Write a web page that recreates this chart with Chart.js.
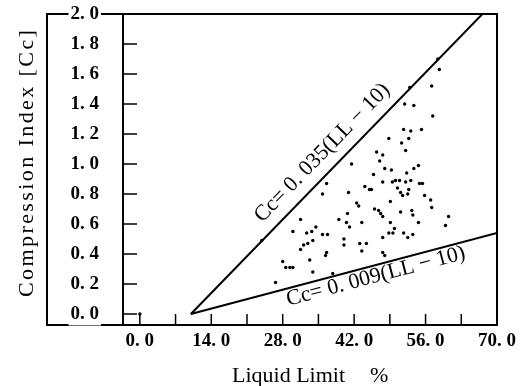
<!DOCTYPE html>
<html><head><meta charset="utf-8">
<script src="https://cdn.jsdelivr.net/npm/chart.js@4.4.1/dist/chart.umd.min.js"></script>
<style>html,body{margin:0;padding:0;background:#fff}canvas{display:block}</style>
</head><body>
<canvas id="c" width="520" height="386"></canvas>
<script>
// ---- data ----
const liquidLimit = [58.4,58.7,52.9,57.2,51.9,53.7,57.4,51.7,53.1,55.2,48.8,52.7,51.3,46.4,47.6,52.1,47.0,48.0,49.3,54.6,53.7,45.8,52.3,47.6,49.5,50.1,50.9,52.1,53.1,54.8,55.4,45.4,50.5,51.1,51.5,52.7,52.5,55.8,57.0,49.1,57.2,46.0,46.8,47.2,47.6,51.1,53.3,53.5,60.5,49.1,54.6,59.9,49.9,48.8,49.6,51.7,52.5,47.6,53.5,36.6,44.1,45.0,35.8,40.9,41.5,42.5,42.9,40.7,39.0,40.5,43.5,41.1,31.5,30.0,32.7,33.7,34.5,35.8,36.8,40.0,33.9,32.9,32.1,31.5,40.0,43.1,44.4,36.6,36.4,43.5,33.3,28.0,28.6,29.4,30.0,33.9,37.8,26.6,23.9,47.6,48.0,0];
const compressionIndex = [1.70,1.63,1.51,1.52,1.40,1.39,1.32,1.23,1.22,1.23,1.17,1.17,1.14,1.08,1.06,1.09,1.02,0.97,0.96,0.99,0.97,0.93,0.94,0.88,0.88,0.89,0.89,0.88,0.89,0.87,0.87,0.83,0.84,0.81,0.79,0.83,0.80,0.79,0.76,0.75,0.71,0.70,0.69,0.67,0.65,0.68,0.69,0.66,0.65,0.61,0.61,0.59,0.57,0.54,0.54,0.54,0.51,0.51,0.53,0.87,0.85,0.83,0.80,0.81,1.00,0.74,0.72,0.67,0.63,0.61,0.61,0.58,0.63,0.55,0.54,0.55,0.58,0.53,0.53,0.50,0.49,0.47,0.46,0.43,0.46,0.47,0.47,0.41,0.39,0.42,0.36,0.35,0.31,0.31,0.31,0.28,0.27,0.21,0.49,0.41,0.39,0];
const upperLineLL = [10, 67.14];
const upperLineCc = [0, 2.0];
const lowerLineLL = [10, 70];
const lowerLineCc = [0, 0.54];
const xTickValues = [0,7,14,21,28,35,42,49,56,63,70];
const xLabelEvery = 14;
const yTickValues = [0,0.2,0.4,0.6,0.8,1.0,1.2,1.4,1.6,1.8,2.0];
const xRange = [-3.3, 70];
const yRange = [-0.073, 2.0];
const xTitle = 'Liquid Limit';
const xUnit = '%';
const yTitle = 'Compression Index [Cc]';
const upperLabel = 'Cc= 0. 035(LL \u2212 10)';
const lowerLabel = 'Cc= 0. 009(LL \u2212 10)';

const fmt = v => v.toFixed(1).replace('.', '. ');
const serif = '"Liberation Serif", "DejaVu Serif", serif';

const decor = {
  id: 'decor',
  beforeDraw(chart) {
    const {ctx, chartArea: a} = chart;
    const xs = chart.scales.x, ys = chart.scales.y;
    ctx.save();
    ctx.fillStyle = '#fff';
    ctx.fillRect(0, 0, chart.width, chart.height);
    ctx.strokeStyle = '#000';
    ctx.lineWidth = 2;
    ctx.beginPath();
    ctx.moveTo(ys.left, a.top); ctx.lineTo(a.right, a.top);
    ctx.lineTo(a.right, a.bottom); ctx.lineTo(ys.left, a.bottom); ctx.closePath();
    ctx.moveTo(a.left, a.top); ctx.lineTo(a.left, a.bottom);
    ctx.stroke();
    ctx.lineWidth = 1.5;
    ctx.beginPath();
    xs.ticks.forEach(t => { const p = xs.getPixelForValue(t.value); ctx.moveTo(p, a.bottom); ctx.lineTo(p, a.bottom - 11); });
    ys.ticks.forEach(t => { const p = ys.getPixelForValue(t.value); ctx.moveTo(a.left, p); ctx.lineTo(a.left + 14, p); });
    ctx.stroke();
    ctx.restore();
  },
  afterDraw(chart) {
    const {ctx} = chart;
    const xs = chart.scales.x, ys = chart.scales.y;
    ctx.save();
    ctx.fillStyle = '#000';
    // x title
    ctx.font = '22px ' + serif;
    ctx.textAlign = 'left';
    ctx.textBaseline = 'alphabetic';
    ctx.fillText(xTitle, 232, 382);
    ctx.fillText(xUnit, 370, 382);
    // y title
    ctx.save();
    ctx.translate(33, 297);
    ctx.rotate(-Math.PI / 2);
    ctx.font = '22px ' + serif;
    const w = ctx.measureText(yTitle).width;
    const target = 267;
    if ('letterSpacing' in ctx && w < target) ctx.letterSpacing = ((target - w) / (yTitle.length - 1)).toFixed(2) + 'px';
    ctx.fillText(yTitle, 0, 0);
    ctx.restore();
    // line labels
    const along = (llArr, ccArr, atLL, off, text) => {
      const x0 = xs.getPixelForValue(llArr[0]), y0 = ys.getPixelForValue(ccArr[0]);
      const x1 = xs.getPixelForValue(llArr[1]), y1 = ys.getPixelForValue(ccArr[1]);
      const ang = Math.atan2(y1 - y0, x1 - x0);
      const t = (atLL - llArr[0]) / (llArr[1] - llArr[0]);
      const px = x0 + (x1 - x0) * t, py = y0 + (y1 - y0) * t;
      const nx = Math.sin(ang), ny = -Math.cos(ang);
      ctx.save();
      ctx.translate(px + nx * off, py + ny * off);
      ctx.rotate(ang);
      ctx.font = '22px ' + serif;
      ctx.textAlign = 'center';
      ctx.textBaseline = 'middle';
      ctx.fillText(text, 0, 0);
      ctx.restore();
    };
    along(upperLineLL, upperLineCc, 38.3, 18, upperLabel);
    along(lowerLineLL, lowerLineCc, 45.7, -11, lowerLabel);
    ctx.restore();
  }
};

new Chart(document.getElementById('c'), {
  type: 'scatter',
  data: {
    datasets: [
      {
        label: 'data',
        data: liquidLimit.map((v, i) => ({x: v, y: compressionIndex[i]})),
        backgroundColor: '#000', borderColor: '#000',
        pointRadius: 1.7, pointBorderWidth: 0
      },
      {
        label: 'upper', type: 'line',
        data: upperLineLL.map((v, i) => ({x: v, y: upperLineCc[i]})),
        borderColor: '#000', borderWidth: 2, pointRadius: 0, fill: false
      },
      {
        label: 'lower', type: 'line',
        data: lowerLineLL.map((v, i) => ({x: v, y: lowerLineCc[i]})),
        borderColor: '#000', borderWidth: 2, pointRadius: 0, fill: false
      }
    ]
  },
  options: {
    responsive: false,
    animation: false,
    events: [],
    layout: {padding: {left: 47, right: 23, top: 14, bottom: 0}},
    plugins: {legend: {display: false}, tooltip: {enabled: false}},
    scales: {
      x: {
        type: 'linear', min: xRange[0], max: xRange[1],
        grid: {display: false}, border: {display: false},
        afterBuildTicks: s => { s.ticks = xTickValues.map(v => ({value: v})); },
        afterFit: s => { s.height = 61; },
        ticks: {
          autoSkip: false, maxRotation: 0, padding: -3, color: '#000',
          font: {family: serif, size: 19, weight: 'bold'},
          callback: v => (Math.abs(v % xLabelEvery) < 1e-9 ? fmt(v) : '')
        }
      },
      y: {
        type: 'linear', min: yRange[0], max: yRange[1],
        grid: {display: false}, border: {display: false},
        afterBuildTicks: s => { s.ticks = yTickValues.map(v => ({value: v})); },
        afterFit: s => { s.width = 76; s.paddingTop = 10; s.paddingBottom = 10; },
        ticks: {
          autoSkip: false, padding: 16, crossAlign: 'center', color: '#000',
          font: {family: serif, size: 19, weight: 'bold'},
          showLabelBackdrop: true, backdropColor: '#fff', backdropPadding: {top: 0, bottom: 0, left: 2, right: 2},
          callback: v => fmt(v)
        }
      }
    }
  },
  plugins: [decor]
});
</script>
</body></html>
